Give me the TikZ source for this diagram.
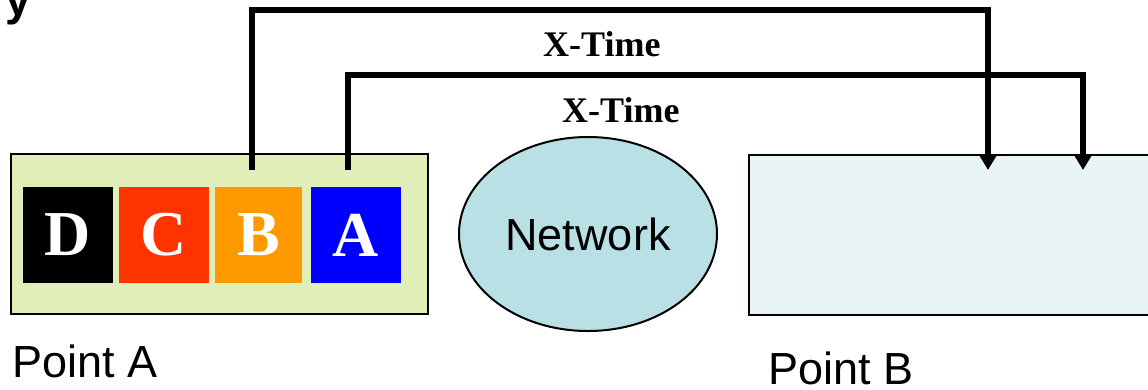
\documentclass[tikz,border=0pt]{standalone}
\usepackage{fontspec}
\setmainfont{Liberation Serif}
\newfontfamily\arialfont{Liberation Sans}
\usetikzlibrary{arrows.meta,shapes.geometric}

\definecolor{senderfill}{RGB}{224,238,184}
\definecolor{receiverfill}{RGB}{232,244,244}
\definecolor{netfill}{RGB}{185,224,228}
\definecolor{pktC}{RGB}{255,51,0}
\definecolor{pktB}{RGB}{255,153,0}
\definecolor{pktA}{RGB}{0,0,255}

\tikzset{
  endpoint/.style={draw=black, line width=1.6pt, inner sep=0pt},
  packet/.style={inner sep=0pt, minimum width=90pt, minimum height=96pt,
    text=white, font=\bfseries\fontsize{64}{70}\selectfont},
  link/.style={line width=5.5pt, -{Triangle[width=18pt,length=16pt]}},
  timelabel/.style={anchor=base west, inner sep=0pt, font=\bfseries\fontsize{36}{40}\selectfont},
  placelabel/.style={anchor=base west, inner sep=0pt, font=\arialfont\fontsize{45}{50}\selectfont},
}

\begin{document}
\begin{tikzpicture}[x=1pt,y=-1pt]
\useasboundingbox (0,0) rectangle (1148,389);

% heading fragment at the top edge
\node[anchor=base east, inner sep=0pt, font=\arialfont\bfseries\fontsize{46}{52}\selectfont] (heading) at (31,15) {ry};

% sender and receiver
\node[endpoint, fill=senderfill, minimum width=417pt, minimum height=160pt] (pointA) at (219.5,234) {};
\node[endpoint, fill=receiverfill, anchor=north west, minimum width=420pt, minimum height=160pt] (pointB) at (748,154) {};

% packets queued at the sender
\node[packet, fill=black] (pD) at (68,235) {D};
\node[packet, fill=pktC]  (pC) at (164,235) {C};
\node[packet, fill=pktB, minimum width=87pt] (pB) at (258.5,235) {B};
\node[packet, fill=pktA, minimum width=90pt] (pA) at (356,235) {A};

% network cloud
\node[ellipse, draw=black, line width=2pt, fill=netfill, inner sep=0pt,
      minimum width=258pt, minimum height=194pt,
      font=\arialfont\fontsize{45}{50}\selectfont] (net) at (588,234) {Network};

% labels
\node[placelabel] (labA) at (12.5,377) {Point A};
\node[placelabel] (labB) at (768.5,384) {Point B};
\node[timelabel] (t1) at (543,56) {X-Time};
\node[timelabel] (t2) at (562,122) {X-Time};

% transmission paths
\coordinate (srcB) at (252,170);
\coordinate (srcA) at (348,170);
\coordinate (dstB) at (988,170);
\coordinate (dstA) at (1083,170);
\coordinate (levelB) at (0,10);
\coordinate (levelA) at (0,75);

\draw[link] (srcB) -- (srcB |- levelB) -| (dstB);
\draw[link] (srcA) -- (srcA |- levelA) -| (dstA);
\end{tikzpicture}
\end{document}
